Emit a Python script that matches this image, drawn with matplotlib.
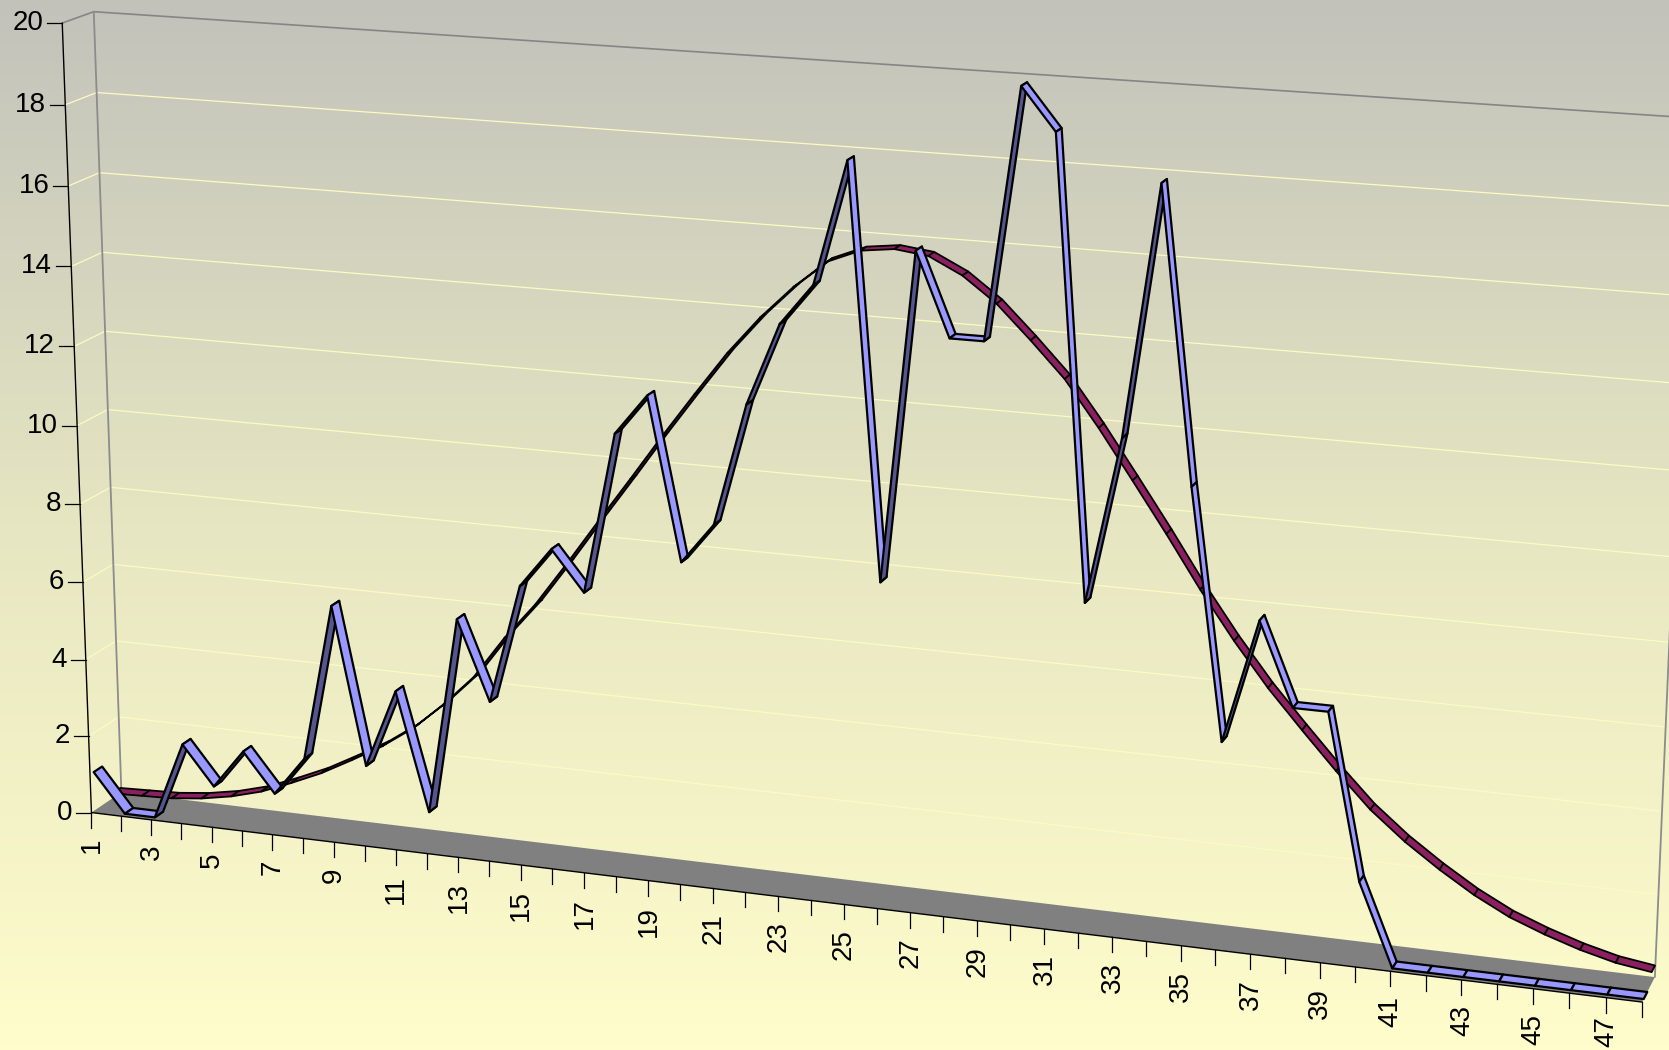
import numpy as np
import matplotlib
matplotlib.use('Agg')
import matplotlib.pyplot as plt
from matplotlib.colors import LinearSegmentedColormap
from matplotlib.patches import Polygon

categories = list(range(1, 49))
counts = [1, 0, 0, 2, 1, 2, 1, 2, 6, 2, 4, 1, 6, 4, 7, 8, 7, 11, 12, 8, 9, 12, 14, 15,
          18, 8, 16, 14, 14, 20, 19, 8, 12, 18, 11, 5, 8, 6, 6, 2, 0, 0, 0, 0, 0, 0, 0, 0]
fitted = [0.13, 0.16, 0.19, 0.28, 0.43, 0.65, 0.97, 1.32, 1.75, 2.2, 2.75, 3.45,
          4.25, 5.33, 6.27, 7.37, 8.51, 9.63, 10.77, 11.87, 12.94, 13.87, 14.67, 15.34,
          15.67, 15.77, 15.67, 15.27, 14.67, 13.87, 13.02, 11.93, 10.75, 9.55, 8.3, 7.15,
          6.1, 5.17, 4.27, 3.43, 2.75, 2.17, 1.65, 1.22, 0.9, 0.63, 0.42, 0.3]
value_ticks = list(range(0, 21, 2))

# camera calibration: (x, value, depth) -> pixel, from the corners of the box
calib_world = [(1, 0, 0), (1, 20, 0), (1, 0, 1), (1, 20, 1), (48, 0, 0),
               (48, 0, 1), (48, 20, 1), (25, 0, 0), (1, 10, 0)]
calib_pixel = [(92, 813), (62, 23), (121, 792), (94, 12), (1642, 1002),
               (1655, 977), (1692, 118), (843.5, 904.7), (77, 425)]


def fit_camera(world, pixel):
    rows, rhs = [], []
    for (x, y, z), (u, v) in zip(world, pixel):
        x, y, u, v = (x - 1) / 47, y / 20, u / 1000, v / 1000
        rows.append([x, y, z, 1, 0, 0, 0, 0, -u * x, -u * y, -u * z])
        rows.append([0, 0, 0, 0, x, y, z, 1, -v * x, -v * y, -v * z])
        rhs += [u, v]
    p = np.linalg.lstsq(np.array(rows), np.array(rhs), rcond=None)[0]
    return np.append(p, 1).reshape(3, 4)


CAM = fit_camera(calib_world, calib_pixel)


def project(x, y, z):
    x, y, z = np.broadcast_arrays(np.asarray(x, float), np.asarray(y, float), np.asarray(z, float))
    h = np.stack([(x - 1) / 47, y / 20, z, np.ones_like(x)])
    u, v, w = CAM @ h
    return 1000 * u / w, 1000 * v / w


def line3(ax, x, y, z, **kw):
    u, v = project(x, y, z)
    ax.plot(u, v, solid_capstyle='round', **kw)


def ribbon(ax, xs, ys, z0, z1, top, under, lw):
    for i in range(len(xs) - 1):
        u, v = project([xs[i], xs[i + 1], xs[i + 1], xs[i]],
                       [ys[i], ys[i + 1], ys[i + 1], ys[i]],
                       [z0, z0, z1, z1])
        # signed area tells which side of the strip is facing us
        area = 0.5 * np.sum(u * np.roll(v, -1) - np.roll(u, -1) * v)
        ax.add_patch(Polygon(np.column_stack([u, v]), closed=True,
                             facecolor=top if area < 0 else under,
                             edgecolor='black', linewidth=lw, joinstyle='round', zorder=3))


def make_plot():
    plt.rcParams['font.family'] = ['Liberation Sans', 'DejaVu Sans']
    fig = plt.figure(figsize=(16.69, 10.5), dpi=100)
    ax = fig.add_axes([0, 0, 1, 1])
    ax.set_xlim(0, 1669)
    ax.set_ylim(1050, 0)
    ax.axis('off')

    cmap = LinearSegmentedColormap.from_list('bg', ['#c2c2bb', '#e6e6c2', '#fffdcb'])
    ax.imshow(np.linspace(0, 1, 256).reshape(-1, 1), cmap=cmap, extent=[0, 1669, 1050, 0],
              aspect='auto', zorder=0)

    # floor
    u, v = project([1, 48, 48, 1], [0, 0, 0, 0], [0, 0, 1, 1])
    ax.add_patch(Polygon(np.column_stack([u, v]), closed=True, facecolor='#808080',
                         edgecolor='none', zorder=1))

    # grid on the walls
    for val in value_ticks[1:-1]:
        line3(ax, [1, 1, 48], [val, val, val], [0, 1, 1], color='#fbfbc4', lw=0.9, zorder=1)

    # box edges
    line3(ax, [1, 1, 48], [20, 20, 20], [0, 1, 1], color='#858585', lw=1.2, zorder=2)
    line3(ax, [1, 1], [0, 20], [1, 1], color='#8c8c8c', lw=1.3, zorder=2)
    line3(ax, [48, 48], [0, 20], [1, 1], color='#8c8c8c', lw=1.3, zorder=2)
    line3(ax, [1, 1], [0, 20], [0, 0], color='black', lw=1.0, zorder=2)
    line3(ax, [1, 48], [0, 0], [0, 0], color='black', lw=1.0, zorder=2)

    # value axis
    for val in value_ticks:
        u, v = project(1, val, 0)
        ax.plot([u - 15, u], [v, v], color='black', lw=0.9, zorder=2)
        ax.text(u - 19, v, str(val), ha='right', va='center', fontsize=20, color='black')

    # category axis
    for c in categories:
        u, v = project(c, 0, 0)
        ax.plot([u, u], [v, v + 15], color='black', lw=0.9, zorder=2)
        if c % 2 == 1:
            # labels get pushed up so they stay inside the picture
            ax.text(u + 0.5, min(v + 25, 1016), str(c), rotation=90, ha='center', va='top',
                    fontsize=20, color='black')

    ribbon(ax, categories, fitted, 0.7, 0.97, '#8b2060', '#3a0f2a', 1.3)
    ribbon(ax, categories, counts, 0.12, 0.4, '#9898ff', '#55558f', 1.6)

    fig.savefig('out.png', dpi=100)


if __name__ == "__main__":
    make_plot()
